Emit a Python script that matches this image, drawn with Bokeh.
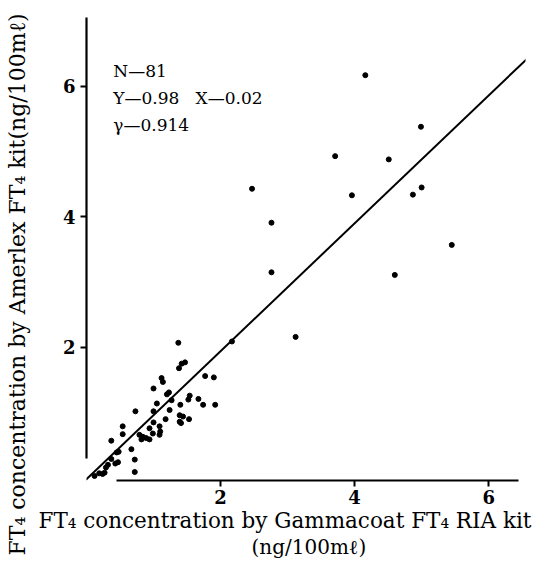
from bokeh.plotting import figure
from bokeh.models import FixedTicker, Label, Slope, Title
from bokeh.embed import file_html
from bokeh.resources import INLINE

# Gammacoat FT4 (x) vs Amerlex FT4 (y), ng/100mℓ
gammacoat = [4.16, 4.99, 3.71, 4.51, 2.47, 3.96, 4.87, 5.00, 2.76, 5.45, 2.76, 4.60, 3.12, 2.17,
             1.37, 1.42, 1.47, 1.38, 1.12, 1.14, 1.00, 1.77, 1.90, 1.20, 1.23, 1.54, 1.52, 1.67,
             1.74, 1.92, 1.40, 1.27, 1.05, 1.00, 0.73, 1.24, 1.18, 1.39, 1.44, 1.39, 1.41, 1.53,
             0.54, 0.54, 1.00, 1.09, 0.94, 0.79, 0.84, 0.89, 0.94, 0.82, 0.99, 1.09, 1.10, 0.37,
             0.67, 0.45, 0.48, 0.37, 0.43, 0.47, 0.72, 0.72, 0.29, 0.27, 0.24, 0.19, 0.12, 0.32]
amerlex = [6.17, 5.38, 4.93, 4.88, 4.43, 4.33, 4.34, 4.45, 3.91, 3.57, 3.15, 3.11, 2.16, 2.09,
           2.07, 1.75, 1.77, 1.68, 1.53, 1.47, 1.37, 1.56, 1.54, 1.28, 1.31, 1.26, 1.20, 1.21,
           1.12, 1.12, 1.12, 1.19, 1.14, 1.02, 1.02, 1.04, 0.90, 0.96, 0.94, 0.86, 0.84, 0.90,
           0.79, 0.67, 0.85, 0.79, 0.76, 0.66, 0.63, 0.61, 0.59, 0.59, 0.68, 0.66, 0.71, 0.57,
           0.44, 0.39, 0.40, 0.29, 0.22, 0.24, 0.28, 0.09, 0.16, 0.08, 0.06, 0.07, 0.03, 0.20]

slope_val = 0.98
intercept_val = -0.02
stats_lines = ["N\u201481", "Y\u20140.98\u00a0\u00a0\u00a0X\u20140.02", "\u03b3\u20140.914"]
x_ticks = [2, 4, 6]
y_ticks = [2, 4, 6]
x_title = "FT\u2084 concentration by Gammacoat FT\u2084 RIA kit"
x_unit = "(ng/100m\u2113)"
y_title = "FT\u2084 concentration by Amerlex FT\u2084 kit(ng/100m\u2113)"

SERIF = "DejaVu Serif"
NB = "\u00a0"

p = figure(width=545, height=569, x_range=(0, 6.55), y_range=(-0.04, 7.1),
           output_backend="svg", toolbar_location=None,
           min_border_left=86, min_border_right=20, min_border_top=14, min_border_bottom=89)
p.outline_line_color = None
p.grid.visible = False
p.background_fill_color = "white"
p.border_fill_color = "white"

for ax, ticks, bounds in ((p.xaxis[0], x_ticks, (0.45, 6.45)), (p.yaxis[0], y_ticks, (0.3, 7.05))):
    ax.ticker = FixedTicker(ticks=ticks)
    ax.bounds = bounds
    ax.axis_line_width = 2.2
    ax.axis_line_color = "black"
    ax.major_tick_line_width = 2
    ax.major_tick_line_color = "black"
    ax.major_tick_out = 6
    ax.major_tick_in = 0
    ax.minor_tick_line_color = None
    ax.major_label_text_font = SERIF
    ax.major_label_text_font_size = "18px"
    ax.major_label_text_font_style = "bold"
    ax.major_label_text_color = "black"
p.xaxis.major_label_standoff = 3
p.yaxis.major_label_standoff = 5
# blank spacer label pushes the y title out to the page edge
p.yaxis.axis_label = NB
p.yaxis.axis_label_standoff = 1
p.yaxis.axis_label_text_font_size = "22px"

def title(text, offset, size="22px", va="middle"):
    return Title(text=text, align="left", vertical_align=va, offset=offset, standoff=0,
                 text_font=SERIF, text_font_size=size, text_font_style="normal",
                 text_color="black")

p.add_layout(title(x_title, -48, "21.5px"), "below")
p.add_layout(title(x_unit, 165, "20px"), "below")
p.add_layout(title(y_title, -75), "left")

p.add_layout(Slope(gradient=slope_val, y_intercept=intercept_val, line_color="black", line_width=2))
p.scatter(gammacoat, amerlex, size=5, color="black")

for i, t in enumerate(stats_lines):
    p.add_layout(Label(x=0.40, y=6.24 - i * 0.415, text=t, text_font=SERIF, text_font_size="17px",
                       text_baseline="middle", text_align="left", text_color="black"))

open("out.html", "w").write(file_html(p, INLINE))
